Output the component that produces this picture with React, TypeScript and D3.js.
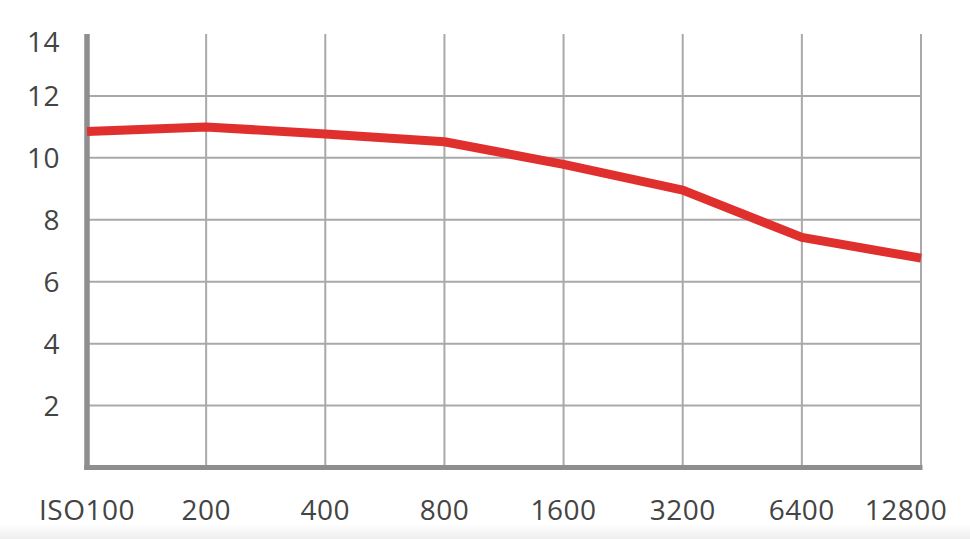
import React from "react";
import * as d3 from "d3";

const isoLabels = ["ISO100", "200", "400", "800", "1600", "3200", "6400", "12800"];
const values = [10.85, 11.0, 10.77, 10.52, 9.79, 8.96, 7.43, 6.76];
const yTicks = [2, 4, 6, 8, 10, 12, 14];

const W = 970;
const H = 539;

export default function App() {
  const x = d3.scalePoint<string>().domain(isoLabels).range([87, 921]);
  const y = d3.scaleLinear().domain([0, 14]).range([467.5, 34]);
  const line = d3
    .line<number>()
    .x((_, i) => x(isoLabels[i]) as number)
    .y((d) => y(d))
    .curve(d3.curveLinear);

  const font = "'Open Sans', 'Liberation Sans', sans-serif";
  const textColor = "#444";
  const gridColor = "#a9a9a9";
  const axisColor = "#8e8e90";

  return (
    <svg
      width={W}
      height={H}
      style={{ position: "absolute", left: 0, top: 0, background: "#fff" }}
    >
      <defs>
        <linearGradient id="btm" x1="0" y1="0" x2="0" y2="1">
          <stop offset="0" stopColor="#ffffff" />
          <stop offset="1" stopColor="#eeeeee" />
        </linearGradient>
      </defs>
      <rect x={0} y={524} width={W} height={15} fill="url(#btm)" />
      {yTicks
        .filter((t) => t < 14)
        .map((t) => (
          <line
            key={"h" + t}
            x1={x(isoLabels[0])}
            x2={x(isoLabels[isoLabels.length - 1])}
            y1={y(t)}
            y2={y(t)}
            stroke={gridColor}
            strokeWidth={2}
          />
        ))}
      {isoLabels.slice(1).map((l) => (
        <line
          key={"v" + l}
          x1={x(l)}
          x2={x(l)}
          y1={y(14)}
          y2={y(0)}
          stroke={gridColor}
          strokeWidth={2}
        />
      ))}
      <line
        x1={x(isoLabels[0])}
        x2={x(isoLabels[0])}
        y1={y(14)}
        y2={y(0) + 2.5}
        stroke={axisColor}
        strokeWidth={5.5}
      />
      <line
        x1={(x(isoLabels[0]) as number) - 2.75}
        x2={(x(isoLabels[isoLabels.length - 1]) as number) + 1.5}
        y1={y(0)}
        y2={y(0)}
        stroke={axisColor}
        strokeWidth={5}
      />
      <path
        d={line(values) || ""}
        fill="none"
        stroke="#e0302e"
        strokeWidth={9}
        strokeLinejoin="round"
      />
      {yTicks.map((t) => (
        <text
          key={"yl" + t}
          x={60}
          y={Math.max(y(t), 42)}
          dy="0.36em"
          textAnchor="end"
          fontFamily={font}
          fontSize={28}
          letterSpacing={0.5}
          fill={textColor}
        >
          {t}
        </text>
      ))}
      {isoLabels.map((l) => {
        const cx = x(l) as number;
        const halfW = l.length * 8.2;
        const c = Math.min(Math.max(cx, 30 + halfW), 947 - halfW);
        return (
          <text
            key={"xl" + l}
            x={c}
            y={520}
            textAnchor="middle"
            fontFamily={font}
            fontSize={28}
            letterSpacing={0.5}
            fill={textColor}
          >
            {l}
          </text>
        );
      })}
    </svg>
  );
}
